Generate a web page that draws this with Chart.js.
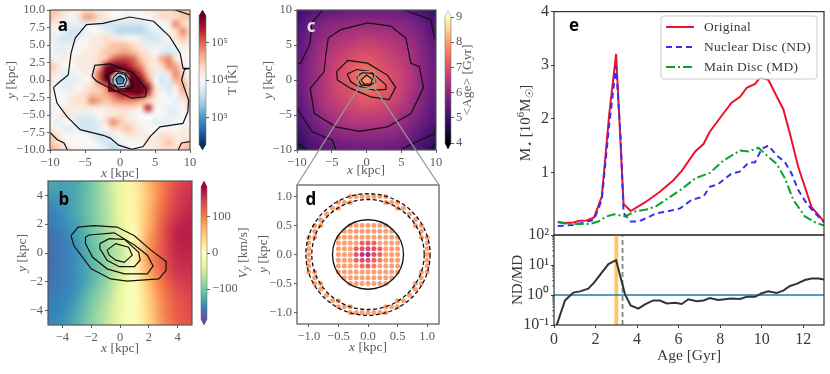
<!doctype html>
<html lang="en">
<head>
<meta charset="utf-8">
<title>Nuclear disc panels</title>
<style>
  * { margin: 0; padding: 0; }
  body { width: 830px; height: 374px; background: white; overflow: hidden; }
  canvas { position: absolute; left: 0; top: 0; }
</style>
<script src="https://cdn.jsdelivr.net/npm/chart.js@4"></script>
</head>
<body>
<script>
// ---- data ----
// panel a: log10 T, rows y=10..-10, columns x=-10..10
const tempRows = [
  [4.3,4.3,4.2,4.1,4.1,4.2,4.2,4.1,4.1,4.0,4.0,4.0,4.0,4.1,4.1,4.1,4.2,4.2,4.3,4.3,4.3],
  [4.3,4.2,4.1,4.0,4.1,4.4,4.4,4.2,4.1,4.0,4.0,4.1,4.0,4.0,4.0,4.1,4.2,4.2,4.2,4.3,4.3],
  [4.2,4.1,3.9,3.9,3.9,3.9,4.0,3.9,3.8,3.8,3.8,3.8,3.8,3.8,3.9,4.0,4.0,4.1,4.5,4.2,4.2],
  [4.1,4.0,3.9,3.8,3.8,3.9,4.0,4.0,3.9,3.8,3.7,3.7,3.7,3.7,3.8,3.9,3.9,4.0,4.2,4.5,4.2],
  [4.1,3.9,3.8,3.8,3.9,4.0,4.1,4.1,4.2,4.1,4.1,4.0,4.0,3.9,3.8,3.8,3.9,4.0,4.2,4.3,4.2],
  [4.0,3.9,3.9,3.9,4.0,4.0,4.1,4.1,4.2,4.3,4.3,4.3,4.2,4.1,3.9,3.9,3.9,3.9,4.0,4.1,4.1],
  [4.0,3.9,3.9,4.0,4.0,4.1,4.1,4.2,4.3,4.3,4.4,4.4,4.3,4.2,4.1,4.0,3.9,3.8,3.9,4.0,4.0],
  [4.1,4.0,4.1,4.0,4.1,4.1,4.1,4.2,4.3,4.6,4.7,4.7,4.6,4.3,4.2,4.1,4.4,4.5,4.1,4.0,4.0],
  [4.3,4.2,4.0,4.0,4.1,4.1,4.1,4.3,4.9,5.2,5.0,4.9,4.7,4.5,4.2,4.1,4.2,4.5,4.4,4.1,4.0],
  [4.2,4.1,3.9,3.9,4.0,4.1,4.1,4.6,5.3,5.6,5.5,5.3,5.0,4.7,4.3,4.1,3.9,4.2,4.5,4.2,4.0],
  [4.2,4.0,3.9,3.9,3.9,4.0,4.1,4.6,5.3,5.6,5.4,5.4,5.3,5.0,4.5,4.0,3.8,3.9,4.4,4.3,4.0],
  [4.1,4.0,3.9,3.9,4.0,4.1,4.2,4.3,4.5,5.0,5.4,5.4,5.5,5.3,4.9,4.2,3.9,3.8,4.1,4.4,4.1],
  [4.0,4.0,4.0,4.1,4.1,4.2,4.3,4.3,4.4,4.6,4.8,4.9,5.0,5.0,4.7,4.2,4.0,3.9,4.0,4.3,4.2],
  [4.0,4.0,4.0,4.1,4.2,4.2,4.5,4.4,4.3,4.4,4.5,4.5,4.5,4.4,4.2,4.1,4.0,4.0,3.9,4.1,4.3],
  [3.9,4.0,4.1,4.1,4.1,4.1,4.1,4.1,4.1,4.2,4.2,4.2,4.2,4.1,4.8,4.1,4.0,3.9,3.9,4.0,4.2],
  [3.9,4.0,4.2,4.1,3.9,3.9,3.9,4.0,4.1,4.1,4.2,4.1,4.0,4.0,4.0,4.0,4.0,3.9,3.9,4.0,4.1],
  [4.0,3.9,4.0,4.0,3.8,3.8,3.8,3.9,4.2,4.5,4.3,4.2,4.1,4.0,4.0,3.9,3.9,3.9,4.0,4.0,4.0],
  [4.1,4.0,3.9,3.9,3.9,3.8,3.8,3.9,4.0,4.2,4.2,4.3,4.2,4.1,4.0,4.0,4.0,4.0,4.0,4.1,4.1],
  [4.3,4.2,4.0,4.0,4.0,4.0,3.9,3.8,3.8,3.9,4.0,4.1,4.1,4.1,4.1,4.1,4.2,4.2,4.1,4.1,4.1],
  [4.3,4.2,4.1,4.0,4.0,4.0,4.0,3.9,3.8,3.8,3.9,4.0,4.0,4.0,4.1,4.1,4.2,4.3,4.1,4.2,4.3],
  [4.4,4.3,4.2,4.1,4.0,4.0,4.0,4.0,3.9,3.7,3.8,3.9,4.0,4.0,4.1,4.1,4.2,4.2,4.2,4.3,4.4]
];
const tempContrast = 1.6; // my first read of the pale tones was too weak against the colour bar
// centre of panel a, rows y=1.5..-1.5, columns x=-1.5..1.5
const tempCore = [
  [5.7,5.7,5.7,5.7,5.6,5.6,5.5],
  [5.7,5.6,4.4,3.6,4.4,5.5,5.6],
  [5.7,4.3,3.4,3.1,3.4,4.4,5.7],
  [5.7,3.6,3.1,2.6,3.1,3.6,5.7],
  [5.7,4.4,3.4,3.1,3.4,4.3,5.7],
  [5.7,5.5,4.4,3.6,4.4,5.6,5.7],
  [5.5,5.6,5.7,5.7,5.7,5.7,5.7]
];
// panel b: Vy, rows y=5..-5, columns x=-5..5
const velRows = [
  [-125,-130,-125,-105,-65,-25,20,65,105,135,150],
  [-135,-135,-125,-100,-70,-28,15,60,105,145,155],
  [-150,-140,-125,-100,-72,-30,15,65,115,150,160],
  [-155,-145,-130,-105,-75,-35,10,70,125,160,165],
  [-165,-155,-135,-110,-80,-45,5,80,130,165,165],
  [-165,-155,-140,-115,-85,-60,5,90,130,160,160],
  [-165,-155,-140,-120,-90,-50,5,80,125,155,155],
  [-160,-155,-140,-120,-85,-40,0,60,110,145,150],
  [-155,-150,-135,-105,-75,-30,-5,50,100,130,140],
  [-150,-145,-125,-95,-65,-25,-5,45,95,125,135],
  [-145,-140,-120,-90,-60,-25,-5,40,90,120,130]
];
// panel c: age, rows y=10..-10, columns x=-10..10, step 2
const ageRows = [
  [5.0,5.3,5.4,5.5,5.6,5.6,5.6,5.6,5.5,5.2,4.9],
  [5.2,5.6,5.9,6.0,6.1,6.1,6.1,6.0,5.9,5.6,5.2],
  [5.3,5.8,6.1,6.4,6.5,6.6,6.5,6.4,6.1,5.8,5.3],
  [5.4,5.9,6.4,6.6,6.8,6.9,6.8,6.6,6.4,5.9,5.5],
  [5.5,6.0,6.5,6.8,7.1,7.3,7.0,6.8,6.5,6.0,5.5],
  [5.5,6.0,6.5,6.9,7.2,8.0,7.3,6.9,6.6,6.0,5.6],
  [5.4,6.0,6.5,6.8,7.0,7.3,7.1,6.9,6.5,5.9,5.5],
  [5.3,5.8,6.4,6.6,6.8,6.9,6.8,6.6,6.3,5.8,5.4],
  [5.2,5.6,6.0,6.3,6.5,6.5,6.5,6.3,6.0,5.6,5.2],
  [4.9,5.4,5.7,5.9,6.0,6.0,6.0,5.9,5.7,5.3,5.0],
  [4.7,5.1,5.4,5.5,5.6,5.6,5.6,5.5,5.4,5.1,4.8]
];

// contours, [x, y] in kpc
const contoursA = [
  [[-9.5,-1.05],[-8.6,-.24],[-7.4,.71],[-7,3.8],[-6.4,6],[-4.8,7.9],[-2.4,8.1],[1.4,9],[4.8,8.4],[7.1,6.2],[8.6,3.8],[9,1.67],[10,1.67],[9.2,1.5],[8.8,0],[9.8,-2.9],[9.7,-4.5],[9,-6.2],[7.6,-6.4],[5.7,-6.7],[4.3,-8.1],[3.3,-9.5],[1.7,-9.9],[-.2,-9.3],[-1.4,-8.3],[-2.4,-7.9],[-5.7,-7.1],[-7.6,-5.2],[-9,-3.3],[-9.5,-1.05]],
  [[7.9,10],[10,9.3]],
  [[-10,-7.5],[-9,-8.5],[-8,-9],[-7.5,-10]],
  [[8.3,-10],[8.8,-9],[10,-8.8]],
  [[-4,.5],[-3.6,2.1],[-1.4,2.3],[1.9,1],[3.8,-1.4],[3.6,-2.4],[1.7,-2.6],[-1,-1.4],[-3.3,-.2],[-4,.5]],
  [[-2,.7],[-.7,1.3],[.7,1],[1.9,-.7],[1.7,-1.2],[-.2,-1.3],[-1.4,-.5],[-2,.7]],
  [[-1,.3],[-.3,1],[.7,.8],[1,0],[.6,-.9],[-.4,-1],[-1,-.4],[-1,.3]],
  [[-.6,.1],[0,.6],[.6,.1],[.4,-.5],[-.3,-.6],[-.6,.1]]
];
const contoursB = [
  [[-3.4,1.2],[-2.9,1.8],[-1.8,1.9],[-.2,1.8],[1,1.2],[2.15,.2],[3.2,-.6],[3.2,-1.2],[2.7,-1.8],[.5,-1.95],[-.65,-1.8],[-2,-1.1],[-3.2,.5],[-3.4,1.2]],
  [[-2.4,1.1],[-2.15,1.25],[-.4,1.4],[1,.55],[1.9,-.15],[2.3,-.9],[1.9,-1.45],[.3,-1.45],[-.9,-1.1],[-1.9,-.3],[-2.4,.65],[-2.4,1.1]],
  [[-1.4,.65],[-.75,1],[.3,.95],[1.3,.05],[1.4,-.5],[1,-.95],[-.05,-.95],[-.9,-.5],[-1.4,.3],[-1.4,.65]],
  [[-.9,.2],[-.3,.65],[.6,.4],[.85,-.15],[.3,-.65],[-.3,-.5],[-.75,-.15],[-.9,.2]]
];
const contoursC = [
  [[-5.5,6],[-3.7,7.2],[.15,8.15],[3.5,7.7],[5.65,6],[6.4,2.4],[7.6,1.9],[8.2,-1.05],[6.4,-4.8],[3,-6.7],[-1.05,-7.35],[-4.4,-6.7],[-7.5,-4.8],[-8.1,-1.2],[-6.1,1.2],[-5.85,3.6],[-5.5,6]],
  [[-6.3,10],[-7.9,8.15],[-8.1,5.3],[-9.45,2.4],[-10,2.3]],
  [[5.4,10],[9.25,8.6],[9.75,6.2],[10,5.75]],
  [[-10,-4.1],[-7.8,-7.4],[-4.9,-8.6],[-4.4,-10]],
  [[4.95,-10],[6.4,-9.2],[9.75,-7.7],[10,-6.2]],
  [[-10,-8.9],[-8.7,-10]],
  [[9.25,-10],[10,-8.9]],
  [[-4.3,1.2],[-2.7,2.8],[.15,2.4],[3,.7],[4.2,-1.05],[3.25,-2.8],[.6,-2.4],[-2.25,-1.2],[-4.2,0],[-4.3,1.2]],
  [[-2.8,.85],[-1.4,1.5],[.6,1.2],[2.8,-.7],[2.8,-1.35],[1.1,-1.45],[-1.3,-.85],[-2.25,-.25],[-2.8,.85]],
  [[-1.4,.4],[-.6,1.05],[.85,.95],[1.35,-.25],[.4,-.85],[-.8,-.7],[-1.4,.4]],
  [[-.8,0],[0,.7],[.85,.1],[.6,-.6],[-.35,-.6],[-.8,0]]
];

// panel d: 0.1 kpc grid, selection radii, age of the dots
const dotGrid = [-1.1,-1,-.9,-.8,-.7,-.6,-.5,-.4,-.3,-.2,-.1,0,.1,.2,.3,.4,.5,.6,.7,.8,.9,1,1.1];
const discRadius = 0.6;
const ringRadii = [0.95, 1.05];
const dotAge = 8.0;
const centreAges = [ // rows y=.2..-.2, columns x=-.2...2
  [8.0,7.2,7.1,7.2,8.0],
  [7.2,7.0,6.9,7.0,7.3],
  [7.1,6.5,6.3,7.0,7.3],
  [7.2,7.0,7.0,7.2,7.6],
  [8.0,7.4,7.2,7.6,8.0]
];

// panel e
const ageOriginal = [.18,.53,.93,1.25,1.57,1.93,2.3,2.66,2.99,3.35,3.69,4.38,5.1,5.75,6.15,6.8,7.2,7.5,8,8.55,8.96,9.28,9.68,9.92,10.32,10.72,11.04,11.36,11.76,12.08,12.4,12.73,13];
const massOriginal = [.08,.055,.065,.1,.105,.16,.55,2.09,3.21,.41,.28,.44,.64,.855,1.03,1.39,1.53,1.76,2.02,2.3,2.41,2.58,2.65,2.77,2.73,2.42,2.18,1.72,1.1,.73,.35,.21,.085];
const ageNuclear = [.18,.93,1.5,1.93,2.3,2.66,2.99,3.2,3.35,3.69,4.06,4.46,4.94,5.43,6.07,6.63,7.2,7.5,7.9,8.55,8.92,9.36,9.68,10,10.32,10.72,11.12,11.44,11.76,12.17,12.57,13];
const massNuclear = [0,.02,.07,.12,.49,1.9,2.98,1.72,.24,.085,.085,.15,.24,.27,.33,.49,.55,.73,.78,.98,1.01,1.18,1.19,1.44,1.5,1.32,1.19,.98,.67,.42,.24,.07];
const ageMain = [.18,.69,1.73,2.13,2.54,2.89,3.42,3.9,4.46,4.94,5.5,6.15,6.8,7.5,8.15,8.96,9.36,9.84,10.24,10.72,11.12,11.52,12.08,12.57,13];
const massMain = [.07,.04,.04,.085,.18,.22,.18,.27,.31,.375,.52,.69,.89,.99,1.22,1.41,1.39,1.46,1.32,1.16,.89,.49,.18,.07,.01];
const ageRatio = [.13,.53,.93,1.25,1.65,1.93,2.3,2.62,2.99,3.42,3.69,4.06,4.38,4.78,5.1,5.43,5.83,6.15,6.47,6.87,7.2,7.5,7.9,8.55,8.96,9.28,9.68,10,10.32,10.72,11.04,11.36,11.68,12.08,12.4,12.73,13];
const ratio = [.1,.66,1.2,1.32,1.62,2.57,5.6,10.7,14.5,1.05,.45,.35,.49,.66,.65,.52,.55,.5,.72,.62,.66,.79,.68,.76,.74,.87,.87,1.14,1.32,1.17,1.4,2,2.34,3.16,3.55,3.55,3.3];
const legendNames = ['Original', 'Nuclear Disc (ND)', 'Main Disc (MD)'];
const bandAge = 3.0;
const dashAge = 3.3;

// tick labels
const ticksA = [-10,-7.5,-5,-2.5,0,2.5,5,7.5,10];
const labelsA = ['−10.0','−7.5','−5.0','−2.5','0.0','2.5','5.0','7.5','10.0'];
const ticks10 = [-10,-5,0,5,10];
const labels10 = ['−10','−5','0','5','10'];
const ticksB = [-4,-2,0,2,4];
const labelsB = ['−4','−2','0','2','4'];
const ticksD = [-1,-.5,0,.5,1];
const labelsD = ['−1.0','−0.5','0.0','0.5','1.0'];
const ticksE = [1,2,3,4];
const ticksRatio = [.1,1,10,100];
const labelsRatio = ['10⁻¹','10⁰','10¹','10²'];
const minorRatio = [.2,.3,.4,.5,.6,.7,.8,.9,2,3,4,5,6,7,8,9,20,30,40,50,60,70,80,90];
const ticksAge = [0,2,4,6,8,10,12];

// colormaps
const rdBu = ['#053061','#2166ac','#4393c3','#92c5de','#d1e5f0','#f7f7f7','#fddbc7','#f4a582','#d6604d','#b2182b','#67001f'];
const spectral = ['#5e4fa2','#3288bd','#66c2a5','#abdda4','#e6f598','#ffffbf','#fee08b','#fdae61','#f46d43','#d53e4f','#9e0142'];
const magma = ['#000004','#1c1044','#4f127b','#812581','#b5367a','#e55964','#fb8761','#fec287','#fcfdbf'];

// ---- helpers ----
const W = 830, H = 374;
const SERIF = '"Liberation Serif", serif';
const GREY = '#5c5c5c';
const DARK = '#3a3a3a';

const hexRgb = h => [1, 3, 5].map(i => parseInt(h.slice(i, i + 2), 16));
function colorAt(stops, t) {
  t = Math.min(1, Math.max(0, t)) * (stops.length - 1);
  const i = Math.min(stops.length - 2, Math.floor(t));
  const a = hexRgb(stops[i]), b = hexRgb(stops[i + 1]);
  return a.map((c, k) => Math.round(c + (b[k] - c) * (t - i)));
}

// mixed italic / sub / sup text, centred on x,y
function drawText(ctx, segs, x, y, size, color, rot) {
  ctx.save();
  ctx.translate(x, y);
  if (rot) ctx.rotate(rot);
  ctx.fillStyle = color;
  ctx.textBaseline = 'middle';
  ctx.textAlign = 'left';
  const fontOf = s => {
    const small = s[1] === 'sub' || s[1] === 'sup';
    return (s[1] === 'i' || s[1] === 'sub' ? 'italic ' : '') + (small ? size * 0.7 : size) + 'px ' + SERIF;
  };
  let total = 0;
  segs.forEach(s => { ctx.font = fontOf(s); total += ctx.measureText(s[0]).width; });
  let cx = -total / 2;
  segs.forEach(s => {
    ctx.font = fontOf(s);
    const dy = s[1] === 'sub' ? size * 0.25 : s[1] === 'sup' ? -size * 0.3 : 0;
    ctx.fillText(s[0], cx, dy);
    cx += ctx.measureText(s[0]).width;
  });
  ctx.restore();
}

function tickAxis(values, labels, size, color) {
  return {
    afterBuildTicks: s => { s.ticks = values.map(v => ({ value: v })); },
    ticks: { callback: (v, i) => labels[i], autoSkip: false, maxRotation: 0, padding: 2, color: color, font: { family: SERIF, size: size } },
    grid: { drawOnChartArea: false, tickLength: 3, color: color },
    border: { display: false }
  };
}

// plugin: draws grids as smooth images placed with the scales
function heatPlugin(layers, stops, lo, hi) {
  return {
    id: 'heat',
    beforeDatasetsDraw(chart) {
      const { ctx, chartArea: a, scales: { x, y } } = chart;
      ctx.save();
      ctx.beginPath();
      ctx.rect(a.left, a.top, a.width, a.height);
      ctx.clip();
      layers.forEach(l => {
        const rows = l.grid.length, cols = l.grid[0].length;
        const off = document.createElement('canvas');
        off.width = cols; off.height = rows;
        const octx = off.getContext('2d');
        const img = octx.createImageData(cols, rows);
        l.grid.forEach((row, j) => row.forEach((v, i) => {
          const c = colorAt(stops, (v - lo) / (hi - lo));
          img.data.set([c[0], c[1], c[2], 255], (j * cols + i) * 4);
        }));
        octx.putImageData(img, 0, 0);
        const half = l.step / 2;
        const x0 = x.getPixelForValue(l.x0 - half), x1 = x.getPixelForValue(l.x1 + half);
        const y0 = y.getPixelForValue(l.y0 + half), y1 = y.getPixelForValue(l.y1 - half);
        ctx.imageSmoothingEnabled = true;
        ctx.imageSmoothingQuality = 'high';
        ctx.drawImage(off, x0, y0, x1 - x0, y1 - y0);
      });
      ctx.restore();
    }
  };
}

const framePlugin = color => ({
  id: 'frame',
  afterDatasetsDraw(chart) {
    const { ctx, chartArea: a } = chart;
    ctx.save();
    ctx.strokeStyle = color;
    ctx.lineWidth = 1.2;
    ctx.strokeRect(a.left, a.top, a.width, a.height);
    ctx.restore();
  }
});

const notePlugin = fn => ({ id: 'note', afterDraw(chart) { fn(chart, chart.ctx); } });

function addChart(box, datasets, xAxis, yAxis, plugins) {
  const canvas = document.createElement('canvas');
  canvas.width = W; canvas.height = H;
  document.body.appendChild(canvas);
  xAxis.type = xAxis.type || 'linear';
  xAxis.afterFit = s => { s.height = 30; };
  yAxis.afterFit = s => { s.width = 48; };
  return new Chart(canvas, {
    type: 'scatter',
    data: { datasets: datasets },
    options: {
      responsive: false,
      animation: false,
      events: [],
      layout: { autoPadding: false, padding: { left: box.l - 48, right: W - box.r, top: box.t, bottom: H - box.b - 30 } },
      scales: { x: xAxis, y: yAxis },
      plugins: { legend: { display: false }, tooltip: { enabled: false } }
    },
    plugins: plugins
  });
}

function contourSets(lines) {
  return lines.map(l => ({
    data: l.map(p => ({ x: p[0], y: p[1] })),
    showLine: true, pointRadius: 0, borderColor: '#111', borderWidth: 1.2, tension: 0
  }));
}

function squarePanel(box, lo, hi, xt, xl, yt, yl, sets, plugins) {
  const xa = tickAxis(xt, xl, 12.5, GREY); xa.min = lo; xa.max = hi;
  const ya = tickAxis(yt, yl, 12.5, GREY); ya.min = lo; ya.max = hi;
  return addChart(box, sets, xa, ya, plugins.concat([framePlugin('#555')]));
}

function colorBar(box, stops, lo, hi, values, labels) {
  const canvas = document.createElement('canvas');
  canvas.width = W; canvas.height = H;
  document.body.appendChild(canvas);
  const ya = tickAxis(values, labels, 12.5, GREY);
  ya.min = lo; ya.max = hi; ya.position = 'right';
  ya.afterFit = s => { s.width = 30; };
  const tip = 6;
  return new Chart(canvas, {
    type: 'scatter',
    data: { datasets: [] },
    options: {
      responsive: false, animation: false, events: [],
      layout: { autoPadding: false, padding: { left: box.l, right: W - box.r - 30, top: box.t, bottom: H - box.b } },
      scales: { x: { display: false, min: 0, max: 1 }, y: ya },
      plugins: { legend: { display: false }, tooltip: { enabled: false } }
    },
    plugins: [{
      id: 'bar',
      beforeDraw(chart) {
        const { ctx, chartArea: a } = chart;
        const g = ctx.createLinearGradient(0, a.bottom, 0, a.top);
        stops.forEach((c, i) => g.addColorStop(i / (stops.length - 1), c));
        ctx.save();
        ctx.fillStyle = g;
        ctx.strokeStyle = '#777';
        ctx.lineWidth = 0.6;
        ctx.beginPath();
        ctx.moveTo(a.left, a.top);
        ctx.lineTo((a.left + a.right) / 2, a.top - tip);
        ctx.lineTo(a.right, a.top);
        ctx.lineTo(a.right, a.bottom);
        ctx.lineTo((a.left + a.right) / 2, a.bottom + tip);
        ctx.lineTo(a.left, a.bottom);
        ctx.closePath();
        ctx.fill();
        ctx.stroke();
        // extension tips carry the end colours
        ctx.fillStyle = stops[stops.length - 1];
        ctx.beginPath(); ctx.moveTo(a.left, a.top); ctx.lineTo((a.left + a.right) / 2, a.top - tip); ctx.lineTo(a.right, a.top); ctx.fill();
        ctx.fillStyle = stops[0];
        ctx.beginPath(); ctx.moveTo(a.left, a.bottom); ctx.lineTo((a.left + a.right) / 2, a.bottom + tip); ctx.lineTo(a.right, a.bottom); ctx.fill();
        ctx.restore();
      }
    }]
  });
}

const X_KPC = [['x', 'i'], [' [kpc]']];
const Y_KPC = [['y', 'i'], [' [kpc]']];
const LABEL_FONT = '700 17px "Open Sans", sans-serif';
function panelLetter(ctx, t, x, y, color) {
  ctx.save();
  ctx.font = LABEL_FONT;
  ctx.fillStyle = color;
  ctx.textAlign = 'center';
  ctx.textBaseline = 'middle';
  ctx.fillText(t, x, y);
  ctx.restore();
}

// ---- panel a ----
const boxA = { l: 50, r: 190, t: 10, b: 150 };
squarePanel(boxA, -10, 10, ticks10, labels10, ticksA, labelsA, contourSets(contoursA), [
  heatPlugin([
    { grid: tempRows.map(r => r.map(v => 4 + (v - 4) * tempContrast)), step: 1, x0: -10, x1: 10, y0: 10, y1: -10 },
    { grid: tempCore, step: 0.5, x0: -1.5, x1: 1.5, y0: 1.5, y1: -1.5 }
  ], rdBu, 2.3, 5.7),
  notePlugin((c, ctx) => {
    panelLetter(ctx, 'a', 63, 26, '#000');
    drawText(ctx, X_KPC, 120, 173, 13.5, GREY);
    drawText(ctx, Y_KPC, 11, 80, 13.5, GREY, -Math.PI / 2);
    drawText(ctx, [['T [K]']], 232, 80, 13.5, GREY, -Math.PI / 2);
  })
]);
colorBar({ l: 199, r: 206, t: 16, b: 144 }, rdBu, 2.3, 5.7, [3, 4, 5], ['10³', '10⁴', '10⁵']);

// ---- panel b ----
const boxB = { l: 48, r: 192, t: 181, b: 325 };
squarePanel(boxB, -5, 5, ticksB, labelsB, ticksB, labelsB, contourSets(contoursB), [
  heatPlugin([{ grid: velRows, step: 1, x0: -5, x1: 5, y0: 5, y1: -5 }], spectral, -183, 183),
  notePlugin((c, ctx) => {
    panelLetter(ctx, 'b', 64, 200, '#000');
    drawText(ctx, X_KPC, 120, 348, 13.5, GREY);
    drawText(ctx, Y_KPC, 22, 253, 13.5, GREY, -Math.PI / 2);
    drawText(ctx, [['V', 'i'], ['y', 'sub'], [' [km/s]']], 243, 253, 13.5, GREY, -Math.PI / 2);
  })
]);
colorBar({ l: 201, r: 207, t: 187, b: 319 }, spectral, -183, 183, [-100, 0, 100], ['−100', '0', '100']);

// ---- panel c ----
const boxC = { l: 297, r: 436, t: 10, b: 150 };
const chartC = squarePanel(boxC, -10, 10, ticks10, labels10, ticks10, labels10, contourSets(contoursC), [
  heatPlugin([{ grid: ageRows, step: 2, x0: -10, x1: 10, y0: 10, y1: -10 }], magma, 4, 9),
  notePlugin((c, ctx) => {
    panelLetter(ctx, 'c', 311, 27, '#ddd');
    drawText(ctx, X_KPC, 366, 170, 13.5, GREY);
    drawText(ctx, Y_KPC, 268, 80, 13.5, GREY, -Math.PI / 2);
    drawText(ctx, [['<Age> [Gyr]']], 467, 80, 13.5, GREY, -Math.PI / 2);
  })
]);
colorBar({ l: 445, r: 451, t: 17, b: 143 }, magma, 4, 9, [4, 5, 6, 7, 8, 9], ['4', '5', '6', '7', '8', '9']);

// ---- panel d ----
const dotPoints = [], dotColors = [];
dotGrid.forEach(gy => dotGrid.forEach(gx => {
  const r = Math.hypot(gx, gy);
  const keep = r < discRadius - 0.01 || (r > ringRadii[0] - 0.01 && r < ringRadii[1] + 0.01);
  if (!keep) return;
  const i = Math.round(gx * 10) + 2, j = 2 - Math.round(gy * 10);
  const age = (i >= 0 && i < 5 && j >= 0 && j < 5) ? centreAges[j][i] : dotAge;
  const c = colorAt(magma, (age - 4) / 5);
  dotPoints.push({ x: gx, y: gy });
  dotColors.push('rgb(' + c.join(',') + ')');
}));
const boxD = { l: 297, r: 439, t: 185, b: 324 };
squarePanel(boxD, -1.2, 1.2, ticksD, labelsD, ticksD, labelsD, [{
  data: dotPoints, pointRadius: 2.5, pointBackgroundColor: dotColors, pointBorderWidth: 0
}], [
  notePlugin((c, ctx) => {
    const { x, y } = c.scales;
    const rx = v => Math.abs(x.getPixelForValue(v) - x.getPixelForValue(0));
    const ry = v => Math.abs(y.getPixelForValue(v) - y.getPixelForValue(0));
    ctx.save();
    ctx.strokeStyle = '#111';
    ctx.lineWidth = 1.3;
    ctx.beginPath();
    ctx.ellipse(x.getPixelForValue(0), y.getPixelForValue(0), rx(discRadius), ry(discRadius), 0, 0, Math.PI * 2);
    ctx.stroke();
    ctx.setLineDash([4, 2.5]);
    ringRadii.forEach(r => {
      ctx.beginPath();
      ctx.ellipse(x.getPixelForValue(0), y.getPixelForValue(0), rx(r), ry(r), 0, 0, Math.PI * 2);
      ctx.stroke();
    });
    ctx.setLineDash([]);
    // zoom box on panel c and the lines down to this panel
    const cx = chartC.scales.x, cy = chartC.scales.y;
    const zl = cx.getPixelForValue(-1.2), zr = cx.getPixelForValue(1.2);
    const zt = cy.getPixelForValue(1.2), zb = cy.getPixelForValue(-1.2);
    const a = c.chartArea;
    ctx.strokeStyle = '#999';
    ctx.lineWidth = 1.3;
    ctx.strokeRect(zl, zt, zr - zl, zb - zt);
    ctx.beginPath();
    ctx.moveTo(zl, zb); ctx.lineTo(a.left, a.top);
    ctx.lineTo(a.right, a.top); ctx.lineTo(zr, zb);
    ctx.stroke();
    ctx.restore();
    panelLetter(ctx, 'd', 311, 200, '#000');
    drawText(ctx, X_KPC, 368, 347, 13.5, GREY);
    drawText(ctx, Y_KPC, 263, 254, 13.5, GREY, -Math.PI / 2);
  })
]);

// ---- panel e ----
const pairs = (xs, ys) => xs.map((v, i) => ({ x: v, y: ys[i] }));
const RED = '#f0122d', BLUE = '#3a2ff0', GREEN = '#0aa32a';
const curve = (xs, ys, color, dash) => ({
  data: pairs(xs, ys), showLine: true, pointRadius: 0, borderColor: color, borderWidth: 2, borderDash: dash, tension: 0
});
const boxE = { l: 554, r: 824, t: 10, b: 235 };
const xTop = { min: 0, max: 13, ticks: { display: false }, grid: { display: false }, border: { display: false } };
const yTop = tickAxis(ticksE, ticksE.map(String), 16, DARK);
yTop.min = -0.167; yTop.max = 4;
addChart(boxE, [
  curve(ageMain, massMain, GREEN, [9, 3, 2, 3]),
  curve(ageNuclear, massNuclear, BLUE, [6, 4]),
  curve(ageOriginal, massOriginal, RED, [])
], xTop, yTop, [framePlugin('#333'), notePlugin((c, ctx) => {
  // legend box
  const lx = 661, ly = 16, lw = 156, lh = 63;
  ctx.save();
  ctx.fillStyle = 'rgba(255,255,255,0.85)';
  ctx.strokeStyle = '#ccc';
  ctx.lineWidth = 1;
  ctx.beginPath();
  ctx.roundRect(lx, ly, lw, lh, 3);
  ctx.fill();
  ctx.stroke();
  [[RED, []], [BLUE, [6, 4]], [GREEN, [9, 3, 2, 3]]].forEach((s, i) => {
    const rowY = 27 + i * 20;
    ctx.strokeStyle = s[0];
    ctx.lineWidth = 2;
    ctx.setLineDash(s[1]);
    ctx.beginPath();
    ctx.moveTo(666, rowY); ctx.lineTo(694, rowY);
    ctx.stroke();
    ctx.setLineDash([]);
    ctx.fillStyle = DARK;
    ctx.font = '13.5px ' + SERIF;
    ctx.letterSpacing = '0.25px';
    ctx.textBaseline = 'middle';
    ctx.fillText(legendNames[i], 704, rowY);
    ctx.letterSpacing = '0px';
  });
  ctx.restore();
  panelLetter(ctx, 'e', 574, 26, '#000');
  drawText(ctx, [['M'], ['⋆', 'sub'], [' [10'], ['6', 'sup'], ['M'], ['☉', 'sub'], [']']], 526, 123, 15, DARK, -Math.PI / 2);
})]);

const boxF = { l: 554, r: 824, t: 235, b: 325 };
const xLow = tickAxis(ticksAge, ticksAge.map(String), 16, DARK);
xLow.min = 0; xLow.max = 13;
const yLow = tickAxis(ticksRatio, labelsRatio, 16, DARK);
yLow.type = 'logarithmic'; yLow.min = 0.1; yLow.max = 100;
addChart(boxF, [
  { data: pairs(ageRatio, ratio), showLine: true, pointRadius: 0, borderColor: '#333', borderWidth: 2, tension: 0 },
  { data: [{ x: 0, y: 1 }, { x: 13, y: 1 }], showLine: true, pointRadius: 0, borderColor: '#1f77b4', borderWidth: 1.5 },
  { data: [{ x: bandAge, y: 0.1 }, { x: bandAge, y: 100 }], showLine: true, pointRadius: 0, borderColor: '#fdc76b', borderWidth: 4 },
  { data: [{ x: dashAge, y: 0.1 }, { x: dashAge, y: 100 }], showLine: true, pointRadius: 0, borderColor: '#888', borderWidth: 1.8, borderDash: [5, 3] }
], xLow, yLow, [framePlugin('#333'), notePlugin((c, ctx) => {
  ctx.save();
  ctx.strokeStyle = DARK;
  ctx.lineWidth = 0.7;
  minorRatio.forEach(v => {
    const py = c.scales.y.getPixelForValue(v);
    ctx.beginPath();
    ctx.moveTo(c.chartArea.left, py);
    ctx.lineTo(c.chartArea.left - 2, py);
    ctx.stroke();
  });
  ctx.restore();
  drawText(ctx, [['Age [Gyr]']], 689, 356, 15.5, DARK);
  drawText(ctx, [['ND/MD']], 518, 280, 15, DARK, -Math.PI / 2);
})]);
</script>
</body>
</html>
